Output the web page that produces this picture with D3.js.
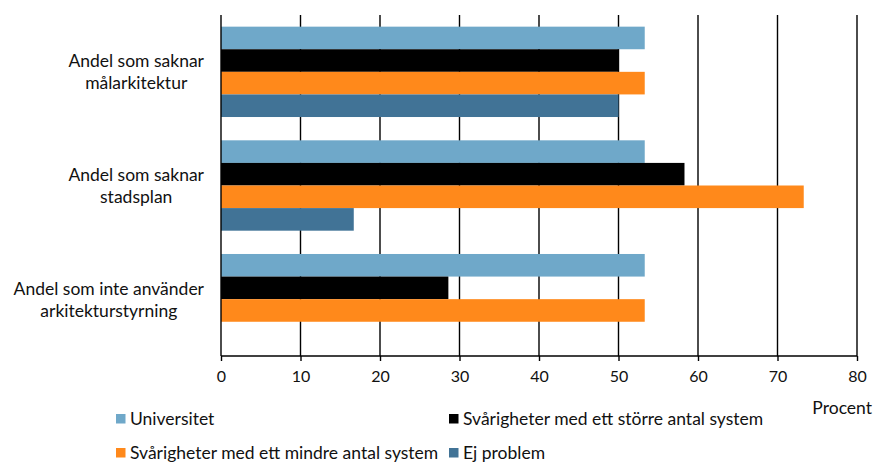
<!DOCTYPE html>
<html>
<head>
<meta charset="utf-8">
<script src="https://cdn.jsdelivr.net/npm/d3@7"></script>
<style>
  html, body { margin: 0; padding: 0; background: #fff; }
  svg { display: block; font-family: Lato, "Open Sans", sans-serif; }
</style>
</head>
<body>
<svg id="chart" width="874" height="464"></svg>
<script>
const categories = [
  ["Andel som saknar", "målarkitektur"],
  ["Andel som saknar", "stadsplan"],
  ["Andel som inte använder", "arkitekturstyrning"]
];
const seriesNames = [
  "Universitet",
  "Svårigheter med ett större antal system",
  "Svårigheter med ett mindre antal system",
  "Ej problem"
];
const universitet = [53.3, 53.3, 53.3];
const storre = [50.0, 58.3, 28.6];
const mindre = [53.3, 73.3, 53.3];
const ejProblem = [50.0, 16.7, 0];
const xTicks = [0, 10, 20, 30, 40, 50, 60, 70, 80];
const axisTitle = "Procent";
const colors = ["#6fa8c9", "#000000", "#ff891b", "#417396"];

const seriesValues = [universitet, storre, mindre, ejProblem];
const catIdx = categories.map((c, i) => i);

const svg = d3.select("#chart");
const plotL = 221, plotR = 857, plotT = 15, plotB = 356;
const fs = 17.5;

const x = d3.scaleLinear().domain([0, 80]).range([plotL, plotR]);
const y0 = d3.scaleBand().domain(catIdx).range([plotT, plotB])
  .paddingInner(0.205).paddingOuter(0.1025);
const y1 = d3.scaleBand().domain(d3.range(seriesNames.length))
  .range([0, y0.bandwidth()]).padding(0);

// gridlines
svg.append("g").selectAll("line").data(xTicks.slice(1)).join("line")
  .attr("x1", d => x(d)).attr("x2", d => x(d))
  .attr("y1", plotT).attr("y2", plotB)
  .attr("stroke", "#000").attr("stroke-width", 1.4);

// bars
const groups = svg.append("g").selectAll("g").data(catIdx).join("g")
  .attr("transform", c => `translate(0,${y0(c)})`);
groups.selectAll("rect")
  .data(c => seriesValues.map((vals, s) => ({ s, v: vals[c] })).filter(d => d.v > 0))
  .join("rect")
  .attr("x", x(0))
  .attr("y", d => y1(d.s))
  .attr("width", d => x(d.v) - x(0))
  .attr("height", y1.bandwidth())
  .attr("fill", d => colors[d.s]);

// x axis
const xAxis = d3.axisBottom(x).tickValues(xTicks).tickSize(5).tickPadding(10);
const gx = svg.append("g").attr("transform", `translate(0,${plotB})`).call(xAxis);
gx.select(".domain").attr("stroke", "#000").attr("stroke-width", 1.4).attr("d", `M${plotL},0H${plotR}`);
gx.selectAll(".tick line").attr("stroke", "#000").attr("stroke-width", 1.4);
gx.selectAll(".tick text").attr("font-size", 16).attr("fill", "#111")
  .attr("font-family", "Lato, sans-serif");

// left axis line
svg.append("line").attr("x1", plotL).attr("x2", plotL).attr("y1", plotT).attr("y2", plotB)
  .attr("stroke", "#000").attr("stroke-width", 1.4);

// category labels
const labelRight = 204;
catIdx.forEach(c => {
  const cy = y0(c) + y0.bandwidth() / 2;
  const g = svg.append("g");
  const texts = categories[c].map((line, i) =>
    g.append("text").attr("font-size", fs).attr("fill", "#111")
      .attr("text-anchor", "middle")
      .attr("y", cy - 4.5 + i * 22).text(line));
  const maxW = d3.max(texts, t => t.node().getComputedTextLength());
  texts.forEach(t => t.attr("x", labelRight - maxW / 2));
});

// axis title
svg.append("text").attr("x", 872).attr("y", 414).attr("text-anchor", "end")
  .attr("font-size", fs).attr("fill", "#111").text(axisTitle);

// legend
const legendPos = [[116, 414], [449, 414], [116, 448], [449, 448]];
const lg = svg.append("g").selectAll("g").data(seriesNames).join("g")
  .attr("transform", (d, i) => `translate(${legendPos[i][0]},${legendPos[i][1]})`);
lg.append("rect").attr("width", 9.5).attr("height", 9.5).attr("fill", (d, i) => colors[i]);
lg.append("text").attr("x", 14).attr("y", 11).attr("font-size", fs).attr("fill", "#111").text(d => d);
</script>
</body>
</html>
